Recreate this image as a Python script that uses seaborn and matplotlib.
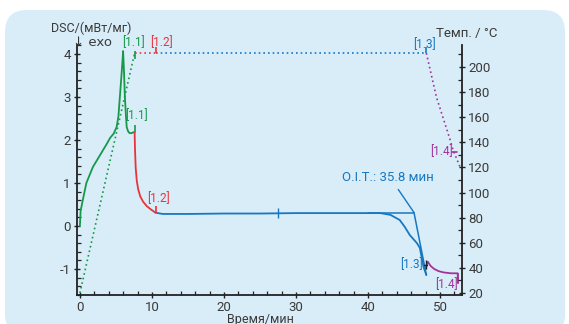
import numpy as np
import pandas as pd
import matplotlib
matplotlib.use("Agg")
import matplotlib.pyplot as plt
import matplotlib.ticker as mticker
from matplotlib.patches import FancyBboxPatch
from matplotlib.transforms import IdentityTransform
import seaborn as sns

# ---------------- data ----------------
# DSC segment 1.1 (heating)
t_11 = [0, 0.1, 0.4, 0.9, 1.8, 2.8, 3.7, 4.2, 4.7, 5.1, 5.35, 5.55, 5.75, 5.9, 6.0, 6.1, 6.25, 6.4, 6.5, 6.7, 6.9, 7.2, 7.4, 7.6]
dsc_11 = [0, 0.35, 0.6, 1.0, 1.37, 1.65, 1.9, 2.05, 2.15, 2.3, 2.55, 3.0, 3.45, 3.8, 4.07, 3.7, 3.0, 2.55, 2.3, 2.2, 2.16, 2.16, 2.18, 2.18]
# DSC segment 1.2 (isothermal, nitrogen)
t_12 = [7.6, 7.65, 7.75, 7.9, 8.1, 8.4, 8.8, 9.3, 9.9, 10.5]
dsc_12 = [2.18, 1.8, 1.35, 1.05, 0.85, 0.68, 0.56, 0.46, 0.38, 0.31]
# DSC segment 1.3 (isothermal, oxygen)
t_13 = [10.5, 11.5, 13, 15, 20, 25, 30, 35, 40, 41.7, 43.1, 44.4, 45.1, 45.8, 46.8, 47.2, 47.7, 48.1]
dsc_13 = [0.31, 0.28, 0.28, 0.28, 0.29, 0.29, 0.3, 0.3, 0.3, 0.3, 0.26, 0.14, -0.02, -0.21, -0.40, -0.51, -0.95, -1.14]
# DSC segment 1.4 (cooling)
t_14 = [48.0, 48.3, 48.7, 49.2, 49.8, 50.5, 51.5, 52.3, 52.45, 52.5]
dsc_14 = [-1.0, -0.83, -0.93, -1.0, -1.05, -1.08, -1.1, -1.1, -1.1, -1.33]

# Temperature program
t_temp_11 = [0, 7.6]
temp_11 = [20, 211]
t_temp_12 = [7.6, 10.5]
temp_12 = [211, 211]
t_temp_13 = [10.5, 48.1]
temp_13 = [211, 211]
t_temp_14 = [48.1, 49.5, 51.4, 51.8, 52.8]
temp_14 = [211, 176, 142, 134, 120]

# O.I.T. evaluation
oit_label = "O.I.T.: 35.8 мин"
oit_baseline_t = [40.0, 46.4]
oit_baseline_v = [0.3, 0.3]
oit_tangent_t = [46.4, 48.1]
oit_tangent_v = [0.3, -1.14]

x_ticks = [0, 10, 20, 30, 40, 50]
y_ticks = [-1, 0, 1, 2, 3, 4]
t_ticks = [20, 40, 60, 80, 100, 120, 140, 160, 180, 200]

GREEN = "#17984a"
RED = "#e8333b"
BLUE = "#1777c2"
PURPLE = "#a2339c"
TXT = "#3a3a3a"
BG = "#d8edf8"

# ---------------- style ----------------
sns.set_theme(style="ticks")
plt.rcParams['font.family'] = ['Roboto', 'DejaVu Sans']
plt.rcParams['axes.unicode_minus'] = False

fig = plt.figure(figsize=(5.69, 3.24), dpi=100)
fig.patch.set_facecolor("white")
bg = FancyBboxPatch((5, -12), 560, 326, boxstyle="round,pad=0,rounding_size=22",
                    transform=IdentityTransform(), facecolor=BG, edgecolor="none", zorder=-10)
fig.patches.append(bg)

W, H = 569, 324
ax = fig.add_axes([77 / W, 1 - 295 / H, (462 - 77) / W, (295 - 45) / H])
ax.set_facecolor("none")
ax2 = ax.twinx()
ax2.set_facecolor("none")

# temperature (dotted)
dot = (0, (1, 1.8))
for tt, tv, c in [(t_temp_11, temp_11, GREEN), (t_temp_12, temp_12, RED),
                  (t_temp_13, temp_13, BLUE), (t_temp_14, temp_14, PURPLE)]:
    sns.lineplot(x=tt, y=tv, ax=ax2, color=c, linestyle=dot, linewidth=1.2, sort=False)

# DSC curves
for tt, dv, c in [(t_11, dsc_11, GREEN), (t_12, dsc_12, RED),
                  (t_13, dsc_13, BLUE), (t_14, dsc_14, PURPLE)]:
    sns.lineplot(x=tt, y=dv, ax=ax, color=c, linewidth=1.3, sort=False)

sns.lineplot(x=oit_baseline_t, y=oit_baseline_v, ax=ax, color=BLUE, linewidth=1.1)
sns.lineplot(x=oit_tangent_t, y=oit_tangent_v, ax=ax, color=BLUE, linewidth=1.1)
ax.plot([44.2, 46.4], [0.85, 0.31], color=BLUE, lw=1.0)
ax.text(42.8, 1.12, oit_label, color=BLUE, fontsize=9.5, ha="center", va="center")

# segment markers on DSC
ax.vlines(t_11[-1], dsc_11[-1], dsc_11[-1] + 0.17, color=GREEN, lw=1.2)
ax.vlines(t_12[-1], dsc_12[-1], dsc_12[-1] + 0.15, color=RED, lw=1.2)
ax.vlines(27.5, 0.19, 0.41, color=BLUE, lw=1.0)
ax.plot([47.75, 48.25], [-0.9, -0.9], color="#222222", lw=1.0)
ax.vlines(48.0, -0.8, -1.0, color="#222222", lw=1.0)
ax.vlines(t_14[-1], dsc_14[-2], dsc_14[-1], color=PURPLE, lw=1.2)

lab_fs = 8.5
ax.text(7.85, 2.42, "[1.1]", color=GREEN, fontsize=lab_fs, ha="center", va="bottom")
ax.text(10.9, 0.48, "[1.2]", color=RED, fontsize=lab_fs, ha="center", va="bottom")
ax.text(46.0, -0.9, "[1.3]", color=BLUE, fontsize=lab_fs, ha="center", va="center")
ax.text(50.9, -1.35, "[1.4]", color=PURPLE, fontsize=lab_fs, ha="center", va="center")

# segment markers on temperature
ax2.vlines(t_temp_11[-1], 206, 213, color=GREEN, lw=1.2)
ax2.vlines(t_temp_12[-1], 211, 216, color=RED, lw=1.2)
ax2.vlines(t_temp_13[-1], 211, 216, color=BLUE, lw=1.2)
ax2.plot([51.7, 52.3], [132, 132], color=PURPLE, lw=1.2)
ax2.text(7.5, 214, "[1.1]", color=GREEN, fontsize=lab_fs, ha="center", va="bottom")
ax2.text(11.3, 214, "[1.2]", color=RED, fontsize=lab_fs, ha="center", va="bottom")
ax2.text(47.9, 213, "[1.3]", color=BLUE, fontsize=lab_fs, ha="center", va="bottom")
ax2.text(50.2, 133, "[1.4]", color=PURPLE, fontsize=lab_fs, ha="center", va="center")

# ---------------- axes ----------------
ax.set_xlim(-0.4, 53.05)
ax.set_ylim(-1.605, 4.21)
ax2.set_ylim(18.4, 217.5)

ax.set_xticks(x_ticks)
ax.set_yticks(y_ticks)
ax2.set_yticks(t_ticks)
ax.xaxis.set_minor_locator(mticker.MultipleLocator(2))
ax.yaxis.set_minor_locator(mticker.MultipleLocator(0.2))
ax2.yaxis.set_minor_locator(mticker.MultipleLocator(10))

for a in (ax, ax2):
    a.spines["top"].set_visible(False)
    for s in a.spines.values():
        s.set_linewidth(1.3)
        s.set_color("#222222")
    a.tick_params(which="major", direction="inout", length=5, width=1.0, colors="#222222",
                  labelcolor=TXT, labelsize=9.5, pad=2)
    a.tick_params(which="minor", direction="in", length=3, width=0.9, colors="#222222")
ax.spines["right"].set_visible(False)
ax2.spines["left"].set_visible(False)
ax2.spines["bottom"].set_visible(False)
ax.tick_params(axis="x", pad=2)

ax.set_xlabel("")
ax.set_ylabel("")
ax2.set_ylabel("")
fig.text(260 / W, 1 - 320 / H, "Время/мин", ha="center", va="center", fontsize=9, color=TXT)
fig.text(91 / W, 1 - 28 / H, "DSC/(мВт/мг)", ha="center", va="center", fontsize=9, color=TXT)
fig.text(93 / W, 1 - 42 / H, "↓ exo", ha="center", va="center", fontsize=9.5, color=TXT,
         family=['DejaVu Sans'])
fig.text(467 / W, 1 - 33 / H, "Темп. / °C", ha="center", va="center", fontsize=9.5, color=TXT)

fig.savefig("out.png", dpi=100, facecolor="white")
